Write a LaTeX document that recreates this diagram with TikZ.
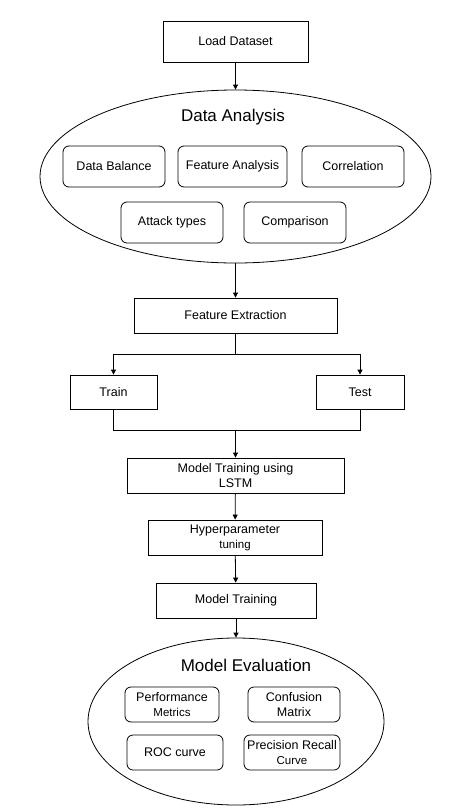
\documentclass[tikz,border=0pt]{standalone}
\usepackage{fontspec}
\setmainfont{Liberation Sans}
\usetikzlibrary{shapes.geometric,arrows.meta}

\begin{document}
\begin{tikzpicture}[x=1pt,y=-1pt,line width=0.8pt,
  >={Triangle[length=5pt,width=5pt]},
  stepbox/.style={draw,inner sep=1pt,align=center,font=\fontsize{12.5}{15}\selectfont},
  subbox/.style={stepbox,rounded corners=6pt,minimum width=102,minimum height=41},
  evalbox/.style={stepbox,rounded corners=6pt,minimum height=35},
  blob/.style={draw,ellipse,inner sep=0pt},
  title/.style={font=\fontsize{17}{20}\selectfont}]
\useasboundingbox (0,0) rectangle (471,809);
\node[stepbox,minimum width=145,minimum height=41] (load) at (235.5,41.5) {Load Dataset};
\node[blob,minimum width=391,minimum height=173] (da) at (235.5,176.5) {};
\node[title] (datitle) at (233,117) {Data Analysis};
\node[subbox] (bal) at (114,166.5) {Data Balance};
\node[subbox,minimum width=109] (feat) at (232.5,166.5) {Feature Analysis};
\node[subbox] (corr) at (353,166.5) {Correlation};
\node[subbox] (att) at (172,222.5) {Attack types};
\node[subbox] (comp) at (295,222.5) {Comparison};
\node[stepbox,minimum width=203,minimum height=35] (fe) at (235.5,315.5) {Feature Extraction};
\coordinate (split) at (235.5,354);
\node[stepbox,minimum width=87,minimum height=34] (train) at (113.5,392) {Train};
\node[stepbox,minimum width=88,minimum height=34] (test) at (360,392) {Test};
\coordinate (join) at (235.5,430);
\node[stepbox,minimum width=217,minimum height=35] (lstm) at (235.5,475.5) {Model Training using\\LSTM};
\node[stepbox,minimum width=174,minimum height=35] (hyper) at (235,537.5) {Hyperparameter\\{\fontsize{11.5}{15}\selectfont tuning}};
\node[stepbox,minimum width=160,minimum height=35] (mt) at (236,600.5) {Model Training};
\node[blob,minimum width=296,minimum height=167] (me) at (236,721.5) {};
\node[title] (metitle) at (246,665) {Model Evaluation};
\node[evalbox,minimum width=94] (perf) at (172,704.5) {Performance\\{\fontsize{11.5}{15}\selectfont Metrics}};
\node[evalbox,minimum width=92] (conf) at (294,704.5) {Confusion\\Matrix};
\node[evalbox,minimum width=96] (roc) at (175,752.5) {ROC curve};
\node[evalbox,minimum width=96] (prc) at (292,752.5) {Precision Recall\\{\fontsize{11.5}{15}\selectfont Curve}};
\draw[->] (load) -- (da);
\draw[->] (da) -- (fe);
\draw (fe) -- (split);
\draw[->] (split) -| (train);
\draw[->] (split) -| (test);
\draw (train) |- (join);
\draw (test) |- (join);
\draw[->] (join) -- (lstm);
\draw[->] (lstm) -- (hyper);
\draw[->] (hyper) -- (mt);
\draw[->] (mt) -- (me);
\end{tikzpicture}
\end{document}
